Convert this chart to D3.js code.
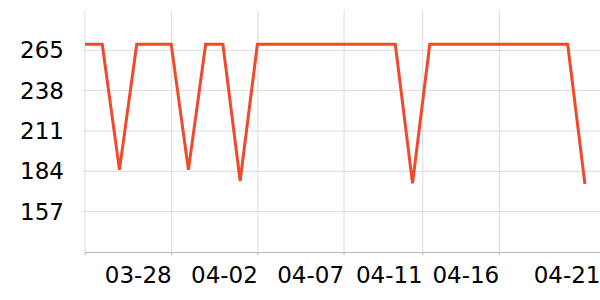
<!DOCTYPE html>
<html>
<head>
<meta charset="utf-8">
<script src="https://cdn.jsdelivr.net/npm/d3@7"></script>
<style>
  body { margin: 0; background: #fff; }
  text { font-family: "DejaVu Sans", sans-serif; fill: #000; }
</style>
</head>
<body>
<script>
// daily values, 03-23 .. 04-21
const dates = [
  "2024-03-23", "2024-03-24", "2024-03-25", "2024-03-26", "2024-03-27",
  "2024-03-28", "2024-03-29", "2024-03-30", "2024-03-31", "2024-04-01",
  "2024-04-02", "2024-04-03", "2024-04-04", "2024-04-05", "2024-04-06",
  "2024-04-07", "2024-04-08", "2024-04-09", "2024-04-10", "2024-04-11",
  "2024-04-12", "2024-04-13", "2024-04-14", "2024-04-15", "2024-04-16",
  "2024-04-17", "2024-04-18", "2024-04-19", "2024-04-20", "2024-04-21"
];
const values = [
  269, 269, 185, 269, 269, 269, 185, 269, 269, 177.5,
  269, 269, 269, 269, 269, 269, 269, 269, 269, 176,
  269, 269, 269, 269, 269, 269, 269, 269, 269, 175.5
];
const yTicks = [157, 184, 211, 238, 265];
const xTicks = [
  "2024-03-28T00:00", "2024-04-02T00:00", "2024-04-07T00:00",
  "2024-04-11T13:30", "2024-04-16T00:00", "2024-04-21T21:00"
];

const w = 600, h = 300;
const m = { top: 10, right: 0, bottom: 48, left: 85 };

const parse = d3.utcParse("%Y-%m-%d");
const parseT = d3.utcParse("%Y-%m-%dT%H:%M");
const data = dates.map((d, i) => ({ date: parse(d), value: values[i] }));

const svg = d3.select("body").append("svg")
  .attr("width", w)
  .attr("height", h);

const x = d3.scaleUtc()
  .domain([parse("2024-03-23"), parseT("2024-04-21T21:00")])
  .range([m.left, w - m.right]);

const y = d3.scaleLinear()
  .domain([130, 292])
  .range([h - m.bottom, m.top]);

// grid
svg.append("g")
  .selectAll("line")
  .data(yTicks)
  .join("line")
  .attr("x1", m.left - 3)
  .attr("x2", w - m.right)
  .attr("y1", d => y(d))
  .attr("y2", d => y(d))
  .attr("stroke", "#dcdcdc");

svg.append("g")
  .selectAll("line")
  .data(xTicks.map(parseT))
  .join("line")
  .attr("x1", d => x(d) + 0.5)
  .attr("x2", d => x(d) + 0.5)
  .attr("y1", m.top)
  .attr("y2", h - m.bottom + 3)
  .attr("stroke", "#dcdcdc");

// left edge
svg.append("line")
  .attr("x1", m.left).attr("x2", m.left)
  .attr("y1", m.top).attr("y2", h - m.bottom + 3)
  .attr("stroke", "#dcdcdc");

// y labels
svg.append("g")
  .selectAll("text")
  .data(yTicks)
  .join("text")
  .attr("x", m.left - 21)
  .attr("y", d => y(d))
  .attr("text-anchor", "end")
  .attr("dominant-baseline", "central")
  .style("font-size", "23px")
  .text(d => d);

// x axis
const xAxis = svg.append("g")
  .attr("transform", `translate(0,${h - m.bottom})`)
  .call(d3.axisBottom(x)
    .tickValues(xTicks.map(parseT))
    .tickFormat(d3.utcFormat("%m-%d"))
    .tickSizeOuter(0)
    .tickSize(3));
xAxis.select(".domain").attr("stroke", "#bbb");
xAxis.selectAll(".tick line").attr("stroke", "#bbb");
xAxis.selectAll(".tick text")
  .attr("text-anchor", "end")
  .attr("y", 31)
  .attr("dy", 0)
  .style("font-size", "23px")
  .style("font-family", "DejaVu Sans");

// line
const line = d3.line()
  .x(d => x(d.date))
  .y(d => y(d.value));

svg.append("path")
  .datum(data)
  .attr("fill", "none")
  .attr("stroke", "#f0492b")
  .attr("stroke-width", 3)
  .attr("d", line);
</script>
</body>
</html>
